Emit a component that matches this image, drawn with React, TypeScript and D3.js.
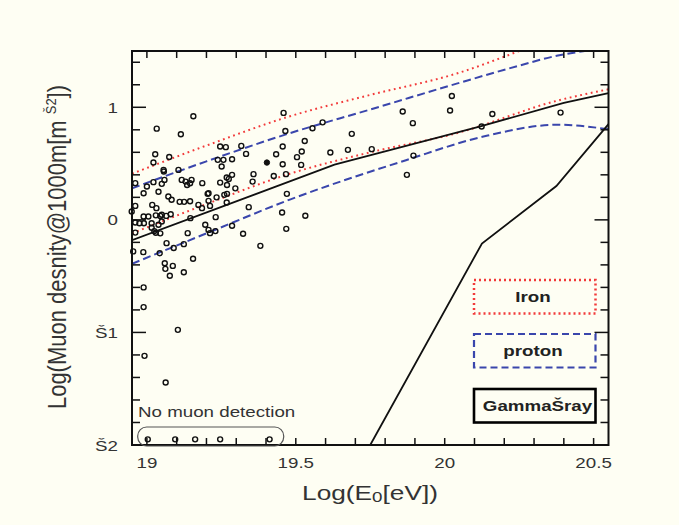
import React from 'react';
import * as d3 from 'd3';

// curves: [log E0, log density]
const ironUpper = [[18.95, 0.41], [19.2, 0.66], [19.48, 0.92], [19.75, 1.11], [20.04, 1.3], [20.25, 1.5]];
const ironLower = [[18.95, -0.12], [19.2, 0.14], [19.48, 0.41], [19.75, 0.6], [20.04, 0.77], [20.38, 1.06], [20.55, 1.16]];
const protonUpper = [[18.95, 0.28], [19.2, 0.52], [19.48, 0.77], [19.75, 0.98], [20.04, 1.21], [20.25, 1.37], [20.38, 1.46], [20.47, 1.5]];
const protonLower = [[18.95, -0.39], [19.2, -0.12], [19.48, 0.18], [19.87, 0.53], [20.13, 0.74], [20.38, 0.845], [20.55, 0.805]];
const centralLine = [[18.95, -0.18], [19.63, 0.49], [20.12, 0.83], [20.4, 1.04], [20.55, 1.125]];
const gammaRay = [[18.95, -2], [19.75, -2], [20.125, -0.21], [20.375, 0.3], [20.55, 0.85]];

const events = [
  [19.156, 0.92], [19.033, 0.81], [19.114, 0.76], [19.459, 0.95], [19.465, 0.79], [19.556, 0.814],
  [19.59, 0.866], [19.53, 0.7], [19.688, 0.764], [19.859, 0.962], [19.893, 0.859], [20.024, 1.1],
  [20.018, 0.971], [20.16, 0.941], [20.124, 0.829], [20.389, 0.953],
  [19.028, 0.583], [19.022, 0.509], [19.075, 0.559], [19.056, 0.444], [19.106, 0.444], [19.057, 0.429],
  [19.246, 0.651], [19.265, 0.646], [19.238, 0.533], [19.257, 0.533], [19.251, 0.474], [19.286, 0.539],
  [19.317, 0.657], [19.333, 0.586], [19.434, 0.583], [19.456, 0.651], [19.456, 0.494],
  [19.52, 0.607], [19.504, 0.557], [19.518, 0.488], [19.358, 0.406], [19.426, 0.39], [19.467, 0.406],
  [19.286, 0.4], [19.616, 0.598], [19.675, 0.622], [19.755, 0.628], [19.895, 0.571], [19.873, 0.4],
  [19.268, 0.376], [19.246, 0.331], [19.275, 0.364], [19.269, 0.31], [19.297, 0.28], [19.355, 0.34],
  [19.47, 0.231], [19.269, 0.231], [18.961, 0.326], [19.0, 0.296], [19.022, 0.335], [19.05, 0.32],
  [19.059, 0.355], [19.039, 0.25], [18.989, 0.237], [19.117, 0.355], [19.135, 0.31], [19.15, 0.355],
  [19.13, 0.34], [19.145, 0.325], [19.186, 0.326], [19.207, 0.237], [19.072, 0.207], [19.083, 0.178],
  [19.11, 0.16], [19.125, 0.16], [19.145, 0.165], [19.204, 0.231], [19.207, 0.169], [19.234, 0.2],
  [19.173, 0.133], [19.212, 0.124], [19.26, 0.222], [19.268, 0.154], [18.961, 0.124], [19.018, 0.133],
  [19.032, 0.104], [19.342, 0.113], [18.949, 0.074], [19.185, 0.104],
  [18.989, 0.03], [19.005, 0.03], [19.03, 0.04], [19.045, 0.035], [19.05, 0.045], [19.065, 0.035],
  [19.08, 0.05], [18.961, -0.024], [18.975, -0.03], [18.99, -0.03], [19.016, -0.03], [19.039, -0.044],
  [19.05, -0.015], [19.146, 0.015], [19.196, -0.044], [19.207, -0.089], [19.212, -0.118], [19.231, 0.024],
  [19.23, -0.1], [19.025, -0.1], [19.03, -0.115], [19.045, -0.12], [19.016, -0.07], [18.961, -0.113],
  [19.137, -0.118], [19.454, 0.065], [19.532, 0.036], [19.468, -0.08], [19.286, -0.053], [19.323, -0.124],
  [19.381, -0.231], [18.954, -0.28], [18.988, -0.287], [19.043, -0.296], [19.066, -0.207], [19.09, -0.25],
  [19.124, -0.216], [19.155, -0.346], [19.06, -0.385], [19.062, -0.435], [19.087, -0.409], [19.077, -0.497],
  [19.124, -0.465], [18.989, -0.6], [18.989, -0.775], [19.104, -0.977], [18.992, -1.208], [19.063, -1.445],
];
const filledEvents = [[19.403, 0.509]];
const noMuonEvents = [[19.003, -1.95], [19.095, -1.95], [19.162, -1.95], [19.246, -1.95], [19.412, -1.95]];

const xTickValues = [19, 19.5, 20, 20.5];
const xTickLabels = ['19', '19.5', '20', '20.5'];
const yTickValues = [1, 0, -1, -2];
const yTickLabels = ['1', '0', 'Š1', 'Š2'];
const legendNames = ['Iron', 'proton', 'GammaŠray'];

const W = 679, H = 525;
const L = 132, R = 608.5, T = 51, B = 445;
const bg = '#fefef3';
const red = '#f23a3a';
const blue = '#3a46ac';
const stretch = 1.25;

export default function App() {
  const x = d3.scaleLinear().domain([18.95, 20.55]).range([L, R]);
  const y = d3.scaleLinear().domain([-2, 1.5]).range([B, T]);
  const smooth = d3.line<number[]>().x(d => x(d[0])).y(d => y(d[1])).curve(d3.curveMonotoneX);
  const straight = d3.line<number[]>().x(d => x(d[0])).y(d => y(d[1]));

  const xMinor = d3.range(0, 16).map(i => 19 + i * 0.1);
  const yMinor = d3.range(-10, 8).map(i => i * 0.2);

  const legendBox = [
    { y0: 280, stroke: red, dash: '2,3', sw: 2.5 },
    { y0: 334, stroke: blue, dash: '7,4', sw: 2.2 },
    { y0: 389, stroke: '#000', dash: null, sw: 2.6 },
  ];

  return (
    <svg width={W} height={H} style={{ position: 'absolute', left: 0, top: 0 }}
      fontFamily="'Liberation Sans', Arial, sans-serif">
      <rect x={0} y={0} width={W} height={H} fill={bg} />
      <defs>
        <clipPath id="plot"><rect x={L} y={T} width={R - L} height={B - T} /></clipPath>
      </defs>

      <g clipPath="url(#plot)" fill="none">
        <path d={smooth(ironUpper) || ''} stroke={red} strokeWidth={2} strokeDasharray="1.8,3.6" />
        <path d={smooth(ironLower) || ''} stroke={red} strokeWidth={2} strokeDasharray="1.8,3.6" />
        <path d={smooth(protonUpper) || ''} stroke={blue} strokeWidth={2} strokeDasharray="8,4" />
        <path d={smooth(protonLower) || ''} stroke={blue} strokeWidth={2} strokeDasharray="8,4" />
        <path d={straight(centralLine) || ''} stroke="#111" strokeWidth={1.8} />
        <path d={straight(gammaRay) || ''} stroke="#111" strokeWidth={1.8} />
      </g>

      <g fill="none" stroke="#111" strokeWidth={1.4}>
        {events.map((d, i) => <circle key={i} cx={x(d[0])} cy={y(d[1])} r={2.5} />)}
        {noMuonEvents.map((d, i) => <circle key={'n' + i} cx={x(d[0])} cy={y(d[1])} r={2.5} />)}
      </g>
      {filledEvents.map((d, i) => <circle key={'f' + i} cx={x(d[0])} cy={y(d[1])} r={2.7} fill="#111" stroke="#111" />)}

      {/* frame and inward ticks */}
      <rect x={L} y={T} width={R - L} height={B - T} fill="none" stroke="#111" strokeWidth={2} />
      <g stroke="#111" strokeWidth={1.5}>
        {xMinor.map((v, i) => (
          <g key={'x' + i}>
            <line x1={x(v)} x2={x(v)} y1={T} y2={T + 7} />
            <line x1={x(v)} x2={x(v)} y1={B} y2={B - 7} />
          </g>
        ))}
        {yMinor.map((v, i) => {
          const len = Math.abs(v - Math.round(v)) < 1e-6 ? 14 : 8;
          return (
            <g key={'y' + i}>
              <line x1={L} x2={L + len} y1={y(v)} y2={y(v)} />
              <line x1={R} x2={R - len} y1={y(v)} y2={y(v)} />
            </g>
          );
        })}
      </g>

      <g fill="#333" fontSize={15}>
        {xTickValues.map((v, i) => (
          <text key={i} transform={`translate(${x(v)},468) scale(${stretch},1)`} textAnchor="middle">{xTickLabels[i]}</text>
        ))}
        {yTickValues.map((v, i) => (
          <text key={i} transform={`translate(118,${y(v) + 5.5}) scale(${stretch},1)`} textAnchor="end">{yTickLabels[i]}</text>
        ))}
      </g>

      <text transform={`translate(370,500) scale(${stretch},1)`} textAnchor="middle" fontSize={21} fill="#333">
        Log(E<tspan fontSize={15} dy={2}>0</tspan><tspan dy={-2}>[eV])</tspan>
      </text>
      <text transform={`translate(66,247) scale(1.15,1) rotate(-90)`} textAnchor="middle" fontSize={22} fill="#333">
        Log(Muon desnity@1000m[m <tspan fontSize={13} dy={-9}>Š2</tspan><tspan dy={9}>])</tspan>
      </text>

      <text transform={`translate(138,417) scale(${stretch},1)`} fontSize={15} fill="#333">No muon detection</text>
      <rect x={137.7} y={427} width={146} height={19} rx={9} fill="none" stroke="#555" strokeWidth={1.2} />

      {legendBox.map((b, i) => (
        <g key={i}>
          <rect x={474} y={b.y0} width={121.5} height={33.5} fill="none" stroke={b.stroke}
            strokeWidth={b.sw} strokeDasharray={b.dash || undefined} />
          <text transform={`translate(${i === 2 ? 537.5 : 533},${b.y0 + 22}) scale(${stretch},1)`}
            textAnchor="middle" fontSize={15} fontWeight="bold" fill="#222">{legendNames[i]}</text>
        </g>
      ))}
    </svg>
  );
}
